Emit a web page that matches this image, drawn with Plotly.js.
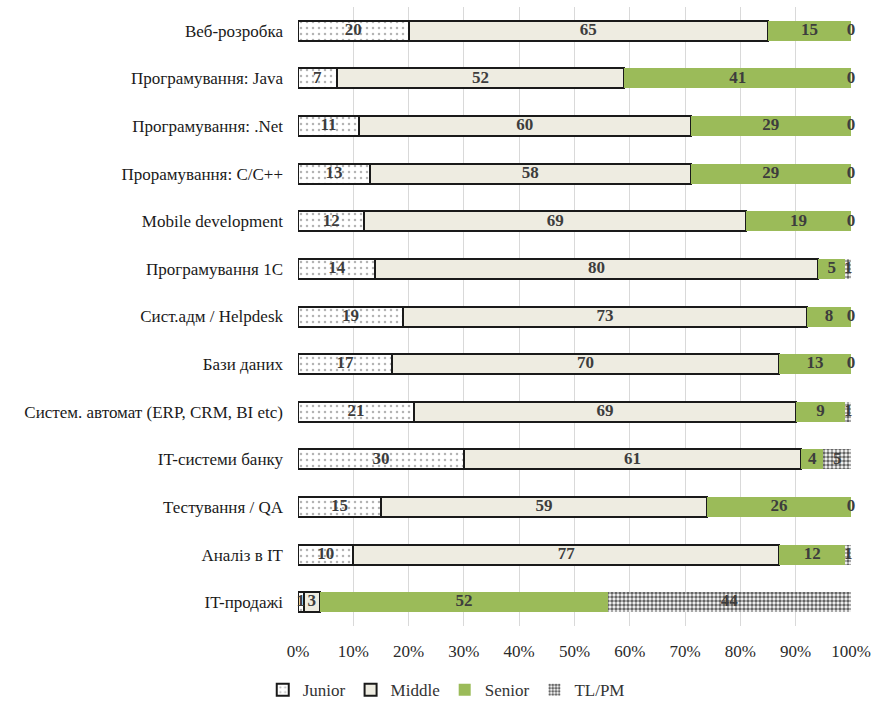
<!DOCTYPE html>
<html>
<head>
<meta charset="utf-8">
<script src="https://cdn.plot.ly/plotly-3.0.1.min.js"></script>
<style>
  html, body { margin: 0; padding: 0; background: #ffffff; }
  #chart { width: 875px; height: 705px; }
</style>
</head>
<body>
<div id="chart"></div>
<script>
// IT specialisations, top to bottom
const categories = [
  'Веб-розробка',
  'Програмування: Java',
  'Програмування: .Net',
  'Прорамування: C/C++',
  'Mobile development',
  'Програмування 1С',
  'Сист.адм / Helpdesk',
  'Бази даних',
  'Систем. автомат (ERP, CRM, BI etc)',
  'IT-системи банку',
  'Тестування / QA',
  'Аналіз в IT',
  'IT-продажі'
];

// Share of each seniority level, %
const junior = [20, 7, 11, 13, 12, 14, 19, 17, 21, 30, 15, 10, 1];
const middle = [65, 52, 60, 58, 69, 80, 73, 70, 69, 61, 59, 77, 3];
const senior = [15, 41, 29, 29, 19, 5, 8, 13, 9, 4, 26, 12, 52];
const tlpm   = [0, 0, 0, 0, 0, 1, 0, 0, 1, 5, 0, 1, 44];

const xTicks = [0, 10, 20, 30, 40, 50, 60, 70, 80, 90, 100];
const xTickText = ['0%', '10%', '20%', '30%', '40%', '50%', '60%', '70%', '80%', '90%', '100%'];

const seriesNames = ['Junior', 'Middle', 'Senior', 'TL/PM'];
const series = [junior, middle, senior, tlpm];

const serif = 'Liberation Serif, Times New Roman, serif';
const labelColor = '#3d3d3d';

const styles = [
  { color: '#ffffff', line: { color: '#1a1a1a', width: 2 },
    pattern: { shape: '.', fgcolor: '#b4b4b4', bgcolor: '#ffffff', size: 6, solidity: 0.14 } },
  { color: '#eeece1', line: { color: '#1a1a1a', width: 2 } },
  { color: '#9bbb59', line: { width: 0 } },
  { color: '#ffffff', line: { width: 0 },
    pattern: { shape: '.', fgcolor: '#666666', bgcolor: '#ffffff', size: 4, solidity: 0.6 } }
];

const traces = series.map((vals, i) => ({
  type: 'bar',
  orientation: 'h',
  name: seriesNames[i],
  y: categories,
  x: vals,
  marker: styles[i],
  width: 0.42,
  hoverinfo: 'x+name'
}));

// Value labels centred in each segment (zero segments sit at the bar end)
const lx = [], ly = [], lt = [];
categories.forEach((c, r) => {
  let acc = 0;
  series.forEach(vals => {
    const v = vals[r];
    lx.push(acc + v / 2);
    ly.push(c);
    lt.push(String(v));
    acc += v;
  });
});

traces.push({
  type: 'scatter',
  mode: 'text',
  x: lx,
  y: ly,
  text: lt,
  textposition: 'middle center',
  textfont: { family: serif, size: 17, color: labelColor, weight: 'bold' },
  showlegend: false,
  hoverinfo: 'skip',
  cliponaxis: false
});

const layout = {
  width: 875,
  height: 705,
  margin: { l: 298, r: 24, t: 7, b: 79 },
  paper_bgcolor: '#ffffff',
  plot_bgcolor: '#ffffff',
  barmode: 'stack',
  font: { family: serif, size: 17, color: '#1a1a1a' },
  xaxis: {
    range: [0, 100],
    tickvals: xTicks,
    ticktext: xTickText,
    showgrid: true,
    gridcolor: '#d9d9d9',
    gridwidth: 1,
    zeroline: false,
    showline: false,
    ticks: '',
    ticklabelstandoff: 13,
    tickfont: { family: serif, size: 17, color: '#2a2a2a' },
    fixedrange: true
  },
  yaxis: {
    type: 'category',
    categoryorder: 'array',
    categoryarray: categories,
    range: [categories.length - 0.5, -0.5],
    autorange: false,
    showgrid: false,
    zeroline: false,
    showline: false,
    ticks: '',
    ticklabelstandoff: 14,
    tickfont: { family: serif, size: 17, color: '#1a1a1a' },
    fixedrange: true
  },
  legend: {
    orientation: 'h',
    xref: 'container',
    yref: 'container',
    x: 0.51,
    xanchor: 'center',
    y: 0.021,
    yanchor: 'middle',
    font: { family: serif, size: 17, color: '#333333' },
    itemwidth: 30,
    tracegroupgap: 0,
    traceorder: 'normal'
  },
  showlegend: true
};

Plotly.newPlot('chart', traces, layout, { displayModeBar: false, staticPlot: true });
</script>
</body>
</html>
